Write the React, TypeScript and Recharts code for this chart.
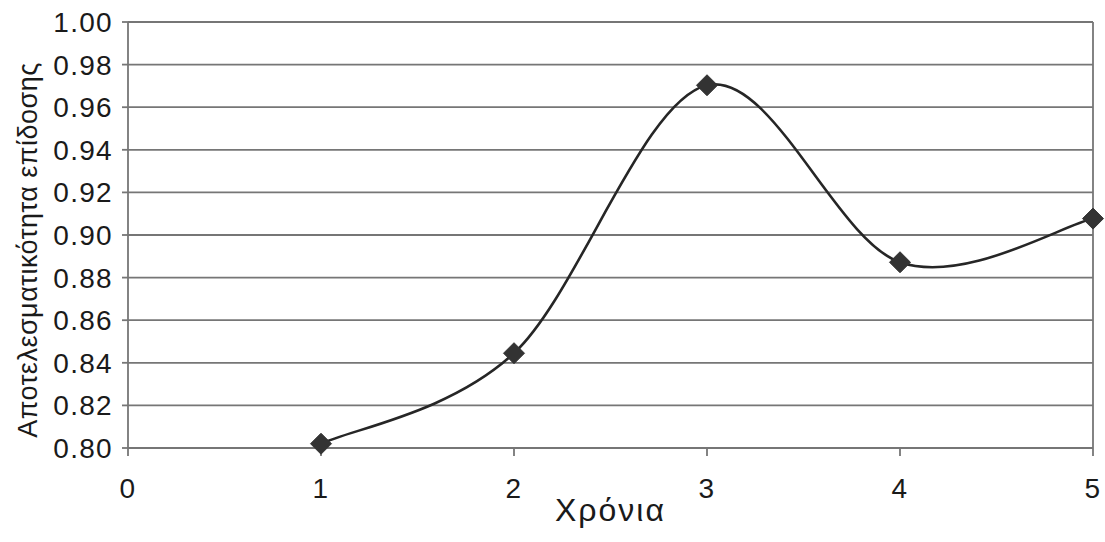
import React from 'react';
import { LineChart, Line, XAxis, YAxis, CartesianGrid, ReferenceLine } from 'recharts';

const years = [1, 2, 3, 4, 5];
const efficiency = [0.802, 0.8445, 0.9703, 0.8872, 0.9077];

const xTicks = [0, 1, 2, 3, 4, 5];
const yTicks = [0.8, 0.82, 0.84, 0.86, 0.88, 0.9, 0.92, 0.94, 0.96, 0.98, 1.0];

const data = years.map((year, i) => ({ year, value: efficiency[i] }));

const GRID = '#767676';
const INK = '#262626';
const FONT = '"Liberation Sans", Arial, sans-serif';

// spreadsheet-style smoothed line: Catmull-Rom segments drawn as cubic beziers
const smoothCurve = (context: any) => {
  let pts: number[][] = [];
  return {
    areaStart() {},
    areaEnd() {},
    lineStart() {
      pts = [];
    },
    point(x: number, y: number) {
      pts.push([+x, +y]);
    },
    lineEnd() {
      if (!pts.length) return;
      context.moveTo(pts[0][0], pts[0][1]);
      for (let i = 0; i < pts.length - 1; i++) {
        const p0 = pts[i - 1] || pts[i];
        const p1 = pts[i];
        const p2 = pts[i + 1];
        const p3 = pts[i + 2] || pts[i + 1];
        context.bezierCurveTo(
          p1[0] + (p2[0] - p0[0]) / 6,
          p1[1] + (p2[1] - p0[1]) / 6,
          p2[0] - (p3[0] - p1[0]) / 6,
          p2[1] - (p3[1] - p1[1]) / 6,
          p2[0],
          p2[1]
        );
      }
    },
  };
};

const Diamond = (props: any) => {
  const { cx, cy, index } = props;
  const r = 10.5;
  return (
    <path
      key={`d-${index}`}
      d={`M${cx},${cy - r}L${cx + r},${cy}L${cx},${cy + r}L${cx - r},${cy}Z`}
      fill="#333333"
      stroke="#333333"
      strokeWidth={1}
    />
  );
};

const YTitle = (props: any) => {
  const { viewBox } = props;
  const x = viewBox.x + 28;
  const y = viewBox.y + viewBox.height / 2 + 15;
  return (
    <text
      x={x}
      y={y}
      transform={`rotate(-90 ${x} ${y})`}
      textAnchor="middle"
      dominantBaseline="central"
      fontFamily={FONT}
      fontSize={27}
      letterSpacing={0.5}
      fill="#1a1a1a"
    >
      Αποτελεσματικότητα επίδοσης
    </text>
  );
};

const XTitle = (props: any) => {
  const { viewBox } = props;
  return (
    <text
      x={viewBox.x + viewBox.width / 2}
      y={viewBox.y + 73}
      textAnchor="middle"
      fontFamily={FONT}
      fontSize={32}
      letterSpacing={2}
      fill="#1a1a1a"
    >
      Χρόνια
    </text>
  );
};

const tickStyle = { fill: '#1a1a1a', fontSize: 28, fontFamily: FONT, letterSpacing: 1.3 };

export default function App() {
  return (
    <div style={{ position: 'absolute', left: 0, top: 0, width: 1105, height: 542, background: '#fff' }}>
      <LineChart width={1105} height={542} data={data} margin={{ top: 22, right: 12, bottom: 0, left: 0 }}>
        <CartesianGrid horizontal vertical={false} stroke={GRID} strokeWidth={1.8} />
        <XAxis
          dataKey="year"
          type="number"
          domain={[0, 5]}
          ticks={xTicks}
          height={94}
          axisLine={{ stroke: GRID, strokeWidth: 1.8 }}
          tickLine={{ stroke: GRID, strokeWidth: 1.8 }}
          tickSize={8}
          tickMargin={22}
          tick={tickStyle}
          label={<XTitle />}
        />
        <YAxis
          type="number"
          domain={[0.8, 1.0]}
          ticks={yTicks}
          width={128}
          axisLine={{ stroke: GRID, strokeWidth: 1.8 }}
          tickLine={{ stroke: GRID, strokeWidth: 1.8 }}
          tickSize={6}
          tickMargin={9}
          tickFormatter={(v: number) => v.toFixed(2)}
          tick={tickStyle}
          label={<YTitle />}
        />
        <ReferenceLine x={5} stroke={GRID} strokeWidth={1.8} />
        <Line
          dataKey="value"
          type={smoothCurve as any}
          stroke={INK}
          strokeWidth={2.6}
          dot={Diamond}
          activeDot={false}
          isAnimationActive={false}
        />
      </LineChart>
    </div>
  );
}
